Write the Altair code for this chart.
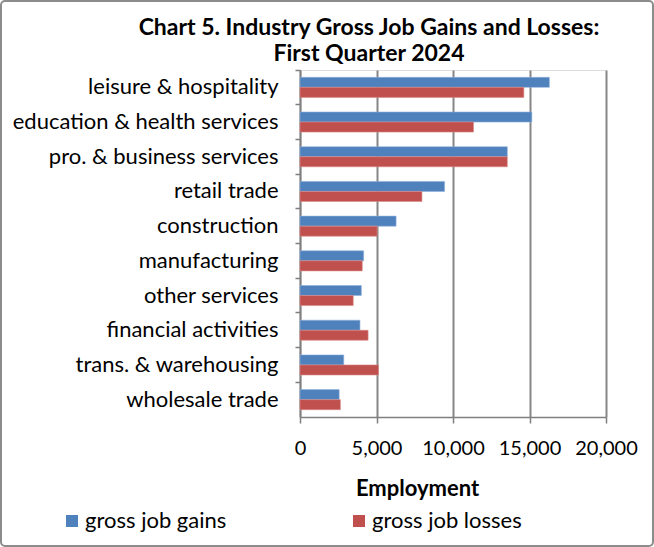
import altair as alt
import pandas as pd

categories = ["leisure & hospitality", "education & health services", "pro. & business services",
              "retail trade", "construction", "manufacturing", "other services",
              "financial activities", "trans. & warehousing", "wholesale trade"]
gains = [16300, 15150, 13550, 9450, 6280, 4160, 4010, 3920, 2860, 2560]
losses = [14630, 11340, 13550, 7970, 5040, 4070, 3480, 4450, 5130, 2640]
series = ["gross job gains", "gross job losses"]
colors = ["#4F81BD", "#C0504D"]
title_lines = ["Chart 5. Industry Gross Job Gains and Losses:", "First Quarter 2024"]

rows = []
for c, g, l in zip(categories, gains, losses):
    rows.append({"industry": c, "series": series[0], "value": g})
    rows.append({"industry": c, "series": series[1], "value": l})
df = pd.DataFrame(rows)

FONT = "Lato"
FS = 22

bars = alt.Chart(df).mark_bar(strokeWidth=1, strokeOpacity=0.6).encode(
    y=alt.Y("industry:N", sort=categories,
            scale=alt.Scale(paddingInner=0, paddingOuter=0),
            axis=alt.Axis(title=None, bandPosition=0, labelFontSize=FS, labelFont=FONT,
                          labelColor="#000000", labelPadding=17, tickSize=5, tickColor="#7f7f7f",
                          tickWidth=1.5, domainColor="#7f7f7f", domainWidth=1.5, labelLimit=300,
                          labelBaseline="middle")),
    yOffset=alt.YOffset("series:N", sort=series,
                        scale=alt.Scale(paddingInner=0, paddingOuter=0.73)),
    x=alt.X("value:Q", scale=alt.Scale(domain=[0, 20000], nice=False),
            axis=alt.Axis(title="Employment", values=[0, 5000, 10000, 15000, 20000], format=",.0f",
                          labelFontSize=20, labelFont=FONT, labelColor="#000000", labelPadding=15,
                          labelOverlap=False, labelBound=False, labelFlush=False,
                          tickSize=6, tickColor="#7f7f7f", tickWidth=1.5,
                          domainColor="#7f7f7f", domainWidth=1.5,
                          grid=True, gridColor="#868686", gridWidth=2,
                          titleFont=FONT, titleFontSize=FS, titleFontWeight="bold", titleColor="#000000",
                          titleX=117, titleY=71, titleAlign="center", titleBaseline="middle")),
    color=alt.Color("series:N", sort=series, scale=alt.Scale(domain=series, range=colors),
                    legend=alt.Legend(title=None, orient="none", direction="horizontal",
                                      legendX=-239, legendY=440, columns=2, columnPadding=121,
                                      symbolType="square", symbolSize=144, symbolStrokeWidth=0,
                                      labelFont=FONT, labelFontSize=FS, labelColor="#000000",
                                      labelOffset=2, labelLimit=300)),
    stroke=alt.Color("series:N", sort=series, scale=alt.Scale(domain=series, range=["#8fb0dc", "#d98a88"]),
                     legend=None),
)

border = alt.Chart(pd.DataFrame({"a": [0]})).mark_rect(
    fill="white", fillOpacity=0, stroke="#8c8c8c", strokeWidth=2, cornerRadius=4
).encode(x=alt.value(-299), x2=alt.value(353), y=alt.value(-69), y2=alt.value(476))

title1 = alt.Chart(pd.DataFrame({"t": [title_lines[0]]})).mark_text(
    font=FONT, fontSize=23, fontWeight="bold", color="#000000", align="center", baseline="middle"
).encode(text="t:N", x=alt.value(69), y=alt.value(-42))

title2 = alt.Chart(pd.DataFrame({"t": [title_lines[1]]})).mark_text(
    font=FONT, fontSize=23, fontWeight="bold", color="#000000", align="center", baseline="middle"
).encode(text="t:N", x=alt.value(69), y=alt.value(-16))

chart = alt.layer(border, bars, title1, title2).properties(
    width=306, height=347,
    padding={"left": 300, "top": 70, "right": 48, "bottom": 130},
    autosize=alt.AutoSizeParams(type="none"),
).configure_view(stroke=None).configure(background="white")

chart.save("out.html", embed_options={"renderer": "svg", "actions": False})
